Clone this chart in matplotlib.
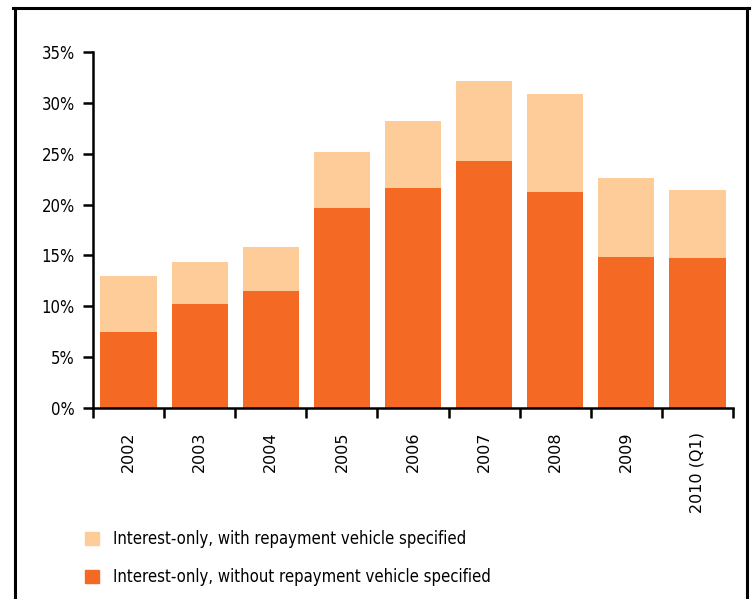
import matplotlib.pyplot as plt
from matplotlib.lines import Line2D
from matplotlib.patches import Patch
from matplotlib import font_manager
import numpy as np

years = ['2002', '2003', '2004', '2005', '2006', '2007', '2008', '2009', '2010 (Q1)']
without_vehicle = [7.5, 10.2, 11.5, 19.7, 21.6, 24.3, 21.2, 14.8, 14.7]
with_vehicle = [5.5, 4.2, 4.3, 5.5, 6.6, 7.8, 9.7, 7.8, 6.7]
label_with = 'Interest-only, with repayment vehicle specified'
label_without = 'Interest-only, without repayment vehicle specified'

dark = '#F46A25'
light = '#FDCC98'

# condensed face for y labels and legend
ycond = font_manager.FontProperties(family='DejaVu Sans', stretch='condensed', size=12)
lcond = font_manager.FontProperties(family='DejaVu Sans', stretch='condensed', size=12)

fig = plt.figure(figsize=(7.54, 5.99), dpi=100)
ax = fig.add_axes([93 / 754, 1 - 408 / 599, 640 / 754, 356 / 599])

x = np.arange(len(years))
ax.bar(x, without_vehicle, width=0.79, color=dark, linewidth=0)
ax.bar(x, with_vehicle, width=0.79, bottom=without_vehicle, color=light, linewidth=0)

ax.set_xlim(-0.5, len(years) - 0.5)
ax.set_ylim(0, 35)
ax.set_yticks(np.arange(0, 36, 5))
ax.set_yticklabels(['%d%%' % v for v in range(0, 36, 5)], fontproperties=ycond)

# major ticks at category edges, labels on minor ticks
ax.set_xticks(np.arange(-0.5, len(years), 1.0))
ax.set_xticklabels([])
ax.set_xticks(x, minor=True)
ax.set_xticklabels(years, minor=True, rotation=90, fontsize=11.5, va='top')
ax.tick_params(axis='x', which='minor', length=0, pad=17)
ax.tick_params(axis='both', which='major', length=7, width=1.8, color='black')
ax.tick_params(axis='y', pad=6)

for s in ['top', 'right']:
    ax.spines[s].set_visible(False)
for s in ['left', 'bottom']:
    ax.spines[s].set_linewidth(1.8)

# legend below the chart
handles = [Patch(color=light, label=label_with), Patch(color=dark, label=label_without)]
fig.legend(handles=handles, loc='upper left', bbox_to_anchor=(70 / 754, 1 - 515 / 599),
           frameon=False, prop=lcond,
           handlelength=0.85, handleheight=0.85, handletextpad=0.85, labelspacing=1.2)

# frame around the figure (no bottom edge)
lw = 2.2
fig.add_artist(Line2D([14.5 / 754, 14.5 / 754], [0, 1 - 8 / 599], color='black', lw=lw))
fig.add_artist(Line2D([747 / 754, 747 / 754], [0, 1 - 8 / 599], color='black', lw=lw))
fig.add_artist(Line2D([13 / 754, 748.5 / 754], [1 - 8 / 599, 1 - 8 / 599], color='black', lw=lw))

fig.savefig('out.png', dpi=100)
